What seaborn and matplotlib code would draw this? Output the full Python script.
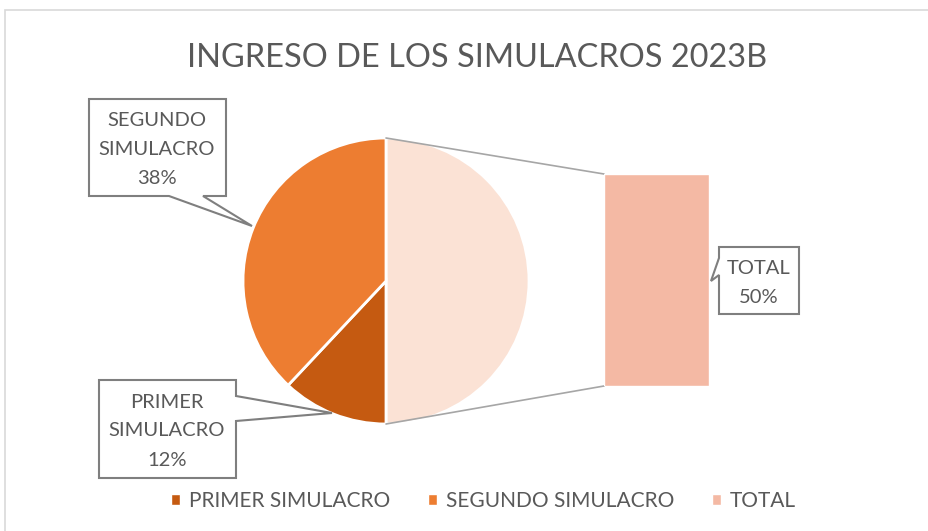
import numpy as np
import matplotlib
matplotlib.use("Agg")
import matplotlib.pyplot as plt
import seaborn as sns
from matplotlib.patches import Polygon, Patch, Rectangle

# ── Data ─────────────────────────────────────────────────────────────────────
TITLE = "INGRESO DE LOS SIMULACROS 2023B"
PIE_LABELS = ["TOTAL", "PRIMER SIMULACRO", "SEGUNDO SIMULACRO"]
PIE_VALUES = [50, 12, 38]
BAR_LABELS = ["TOTAL"]
BAR_VALUES = [50]
LEGEND_ORDER = ["PRIMER SIMULACRO", "SEGUNDO SIMULACRO", "TOTAL"]

COLORS = {
    "PRIMER SIMULACRO": "#C55A11",
    "SEGUNDO SIMULACRO": "#ED7D31",
    "TOTAL": "#FBE2D5",
}
BAR_COLOR = "#F4B9A4"
TEXT = "#595959"
W, H = 929, 531

sns.set_style("white")
plt.rcParams["font.family"] = ["Lato", "DejaVu Sans"]

fig = plt.figure(figsize=(W / 100, H / 100), dpi=100)
ax = fig.add_axes([0, 0, 1, 1])

# chart frame
ax.add_patch(Rectangle((5, -20), 940, H - 10 + 20, fill=False,
                       edgecolor="#D9D9D9", linewidth=1.2, zorder=0))

# ── Pie ──────────────────────────────────────────────────────────────────────
cx, cy, r = 386, H - 281, 143
ax.pie(PIE_VALUES, colors=[COLORS[l] for l in PIE_LABELS], startangle=90,
       counterclock=False, center=(cx, cy), radius=r,
       wedgeprops=dict(edgecolor="white", linewidth=2))
ax.set_xlim(0, W)
ax.set_ylim(0, H)
ax.set_aspect("equal")
ax.axis("off")

# ── Secondary bar ────────────────────────────────────────────────────────────
bx0, bx1, by0, by1 = 604, 709, H - 386, H - 174
bax = fig.add_axes([bx0 / W, by0 / H, (bx1 - bx0) / W, (by1 - by0) / H])
sns.barplot(x=BAR_LABELS, y=BAR_VALUES, color=BAR_COLOR, width=1,
            saturation=1, ax=bax)
bax.set_xlim(-0.5, 0.5)
bax.set_ylim(0, sum(BAR_VALUES))
bax.axis("off")

# connector lines
ax.plot([cx, bx0], [cy + r, by1], color="#A6A6A6", lw=1.2)
ax.plot([cx, bx0], [cy - r, by0], color="#A6A6A6", lw=1.2)


# ── Callouts ─────────────────────────────────────────────────────────────────
def callout(pts, lines, tx, ty, gap):
    pts = [(x, H - y) for x, y in pts]
    ax.add_patch(Polygon(pts, closed=True, facecolor="white",
                         edgecolor="#7F7F7F", linewidth=1.5, zorder=5))
    for i, s in enumerate(lines):
        ax.text(tx, H - (ty + i * gap), s, ha="center", va="center",
                fontsize=14.5, color=TEXT, zorder=6)


pct = dict(zip(PIE_LABELS, PIE_VALUES))
callout([(89, 99), (226, 99), (226, 196), (203, 196), (252, 226),
         (169, 196), (89, 196)],
        ["SEGUNDO", "SIMULACRO", f"{pct['SEGUNDO SIMULACRO']}%"], 157, 120, 29)
callout([(99, 380), (236, 380), (236, 396), (332, 413), (236, 421),
         (236, 478), (99, 478)],
        ["PRIMER", "SIMULACRO", f"{pct['PRIMER SIMULACRO']}%"], 167, 402, 29)
callout([(719, 247), (799, 247), (799, 314), (719, 314), (719, 275),
         (711, 281), (719, 258)],
        ["TOTAL", f"{BAR_VALUES[0]}%"], 759, 268, 29)

# ── Title & legend ───────────────────────────────────────────────────────────
ax.text(477, H - 58, TITLE, ha="center", va="center",
        fontsize=23.4, color=TEXT)

handles = [Patch(facecolor=COLORS[l] if l != "TOTAL" else BAR_COLOR, label=l)
           for l in LEGEND_ORDER]
leg = fig.legend(handles=handles, loc="center",
                 bbox_to_anchor=(483.5 / W, 1 - 501 / H),
                 ncol=3, frameon=False, fontsize=15, handlelength=0.41,
                 handleheight=0.41, handletextpad=0.43, columnspacing=1.83,
                 borderpad=0, borderaxespad=0)
for t in leg.get_texts():
    t.set_color(TEXT)

fig.savefig("out.png", dpi=100)
